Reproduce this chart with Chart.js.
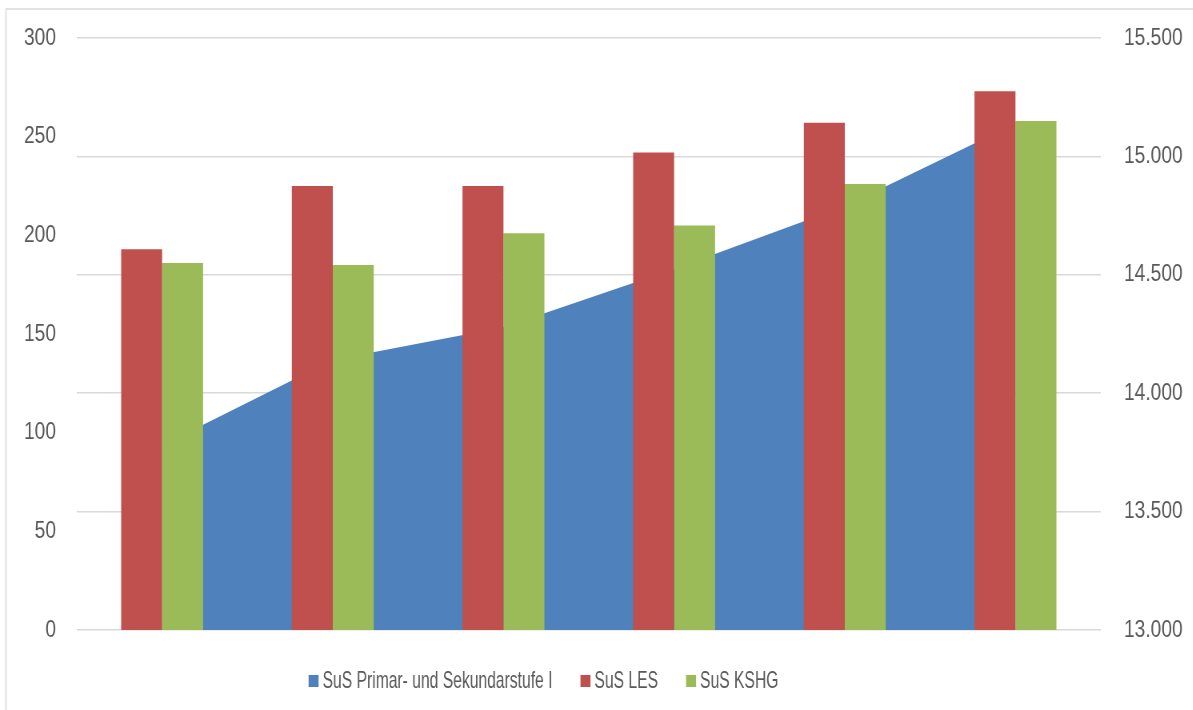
<!DOCTYPE html>
<html>
<head>
<meta charset="utf-8">
<script src="https://cdn.jsdelivr.net/npm/chart.js@4.4.1/dist/chart.umd.min.js"></script>
<style>
  html, body { margin: 0; padding: 0; background: #ffffff; }
  #wrap { position: relative; width: 1193px; height: 710px; overflow: hidden; }
  /* the chart is laid out on a wider canvas and narrowed horizontally,
     which gives the condensed look of the labels */
  #inner { position: absolute; left: 0; top: 0; width: 1491px; height: 710px;
           transform: scaleX(0.8); transform-origin: 0 0; }
  canvas { display: block; }
</style>
</head>
<body>
<div id="wrap"><div id="inner"><canvas id="chart" width="1491" height="710"></canvas></div></div>
<script>
// Six school years, unlabeled on the axis
const categories = ['', '', '', '', '', ''];

// Pupils in primary and lower secondary schools (right axis)
const primarSek = [13780, 14140, 14278, 14525, 14789, 15139];
// Pupils with learning / emotional / speech support needs (left axis)
const lesValues = [193, 225, 225, 242, 257, 273];
// Pupils with physical / sensory / mental support needs (left axis)
const kshgValues = [186, 185, 201, 205, 226, 258];

const seriesNames = ['SuS Primar- und Sekundarstufe I', 'SuS LES', 'SuS KSHG'];
const leftTicks = [0, 50, 100, 150, 200, 250, 300];
const rightTicks = [13000, 13500, 14000, 14500, 15000, 15500];

const BLUE = '#4F81BD';
const RED = '#C0504D';
const GREEN = '#9BBB59';
const TEXT = '#595959';
const FONT = "'Liberation Sans', Arial, sans-serif";

function fmtDe(v) {
  return String(v).replace(/\B(?=(\d{3})+(?!\d))/g, '.');
}

// Outer frame of the chart object
const framePlugin = {
  id: 'frame',
  beforeDraw(chart) {
    const ctx = chart.ctx;
    ctx.save();
    ctx.fillStyle = '#ffffff';
    ctx.fillRect(0, 0, chart.width, chart.height);
    ctx.strokeStyle = '#d9d9d9';
    ctx.lineWidth = 1.5;
    ctx.strokeRect(7.5, 9, chart.width + 50, chart.height + 50);
    ctx.restore();
  }
};

// Legend row below the plot, items laid out from the dataset labels/colours
const legendPlugin = {
  id: 'rowLegend',
  afterDraw(chart) {
    const ctx = chart.ctx;
    const ds = chart.data.datasets;
    const order = [0, 1, 2];
    const sx = 0.816;           // extra horizontal squeeze of the legend text
    ctx.save();
    ctx.font = '24px ' + FONT;
    ctx.textBaseline = 'middle';
    ctx.textAlign = 'left';
    const boxW = 12.5, boxH = 12, gap = 5, itemGap = 35;
    const widths = order.map(i => boxW + gap + ctx.measureText(ds[i].label).width * sx);
    const total = widths.reduce((a, b) => a + b, 0) + itemGap * (order.length - 1);
    let x = 679.4 - total / 2;
    const cy = 681;
    order.forEach((i, k) => {
      ctx.fillStyle = ds[i].backgroundColor;
      ctx.fillRect(x, cy - boxH / 2, boxW, boxH);
      ctx.save();
      ctx.translate(x + boxW + gap, cy);
      ctx.scale(sx, 1);
      ctx.fillStyle = TEXT;
      ctx.fillText(ds[i].label, 0, 0);
      ctx.restore();
      x += widths[k] + itemGap;
    });
    ctx.restore();
  }
};

// value axes: fixed widths, and the label gap kept out of the vertical padding
function fitAxis(width) {
  return scale => {
    scale.width = width;
    scale.paddingTop = 0;
    scale.paddingBottom = 0;
  };
}

new Chart(document.getElementById('chart'), {
  data: {
    labels: categories,
    datasets: [
      {
        type: 'line',
        label: seriesNames[0],
        data: primarSek,
        yAxisID: 'y1',
        backgroundColor: BLUE,
        borderColor: BLUE,
        borderWidth: 0,
        pointRadius: 0,
        tension: 0,
        fill: 'start',
        order: 3
      },
      {
        type: 'bar',
        label: seriesNames[1],
        data: lesValues,
        yAxisID: 'y',
        backgroundColor: RED,
        borderWidth: 0,
        categoryPercentage: 0.48,
        barPercentage: 1.0,
        order: 1
      },
      {
        type: 'bar',
        label: seriesNames[2],
        data: kshgValues,
        yAxisID: 'y',
        backgroundColor: GREEN,
        borderWidth: 0,
        categoryPercentage: 0.48,
        barPercentage: 1.0,
        order: 2
      }
    ]
  },
  options: {
    responsive: false,
    animation: false,
    devicePixelRatio: 1,
    layout: { padding: { left: 0, right: 0, top: 38, bottom: 80 } },
    plugins: {
      legend: { display: false },
      tooltip: { enabled: false }
    },
    scales: {
      x: {
        type: 'category',
        display: false,
        offset: true,
        grid: { display: false }
      },
      y: {
        position: 'left',
        min: 0,
        max: 300,
        afterBuildTicks(scale) { scale.ticks = leftTicks.map(v => ({ value: v })); },
        afterFit: fitAxis(96),
        grid: { display: false, drawTicks: false },
        border: { display: false },
        ticks: {
          padding: 26,
          color: TEXT,
          font: { family: FONT, size: 24 },
          callback: v => fmtDe(v)
        }
      },
      y1: {
        position: 'right',
        min: 13000,
        max: 15500,
        afterBuildTicks(scale) { scale.ticks = rightTicks.map(v => ({ value: v })); },
        afterFit: fitAxis(115),
        grid: { display: true, color: '#d9d9d9', lineWidth: 1.5, drawTicks: false },
        border: { display: false },
        ticks: {
          padding: 29,
          color: TEXT,
          font: { family: FONT, size: 24 },
          callback: v => fmtDe(v)
        }
      }
    }
  },
  plugins: [framePlugin, legendPlugin]
});
</script>
</body>
</html>
